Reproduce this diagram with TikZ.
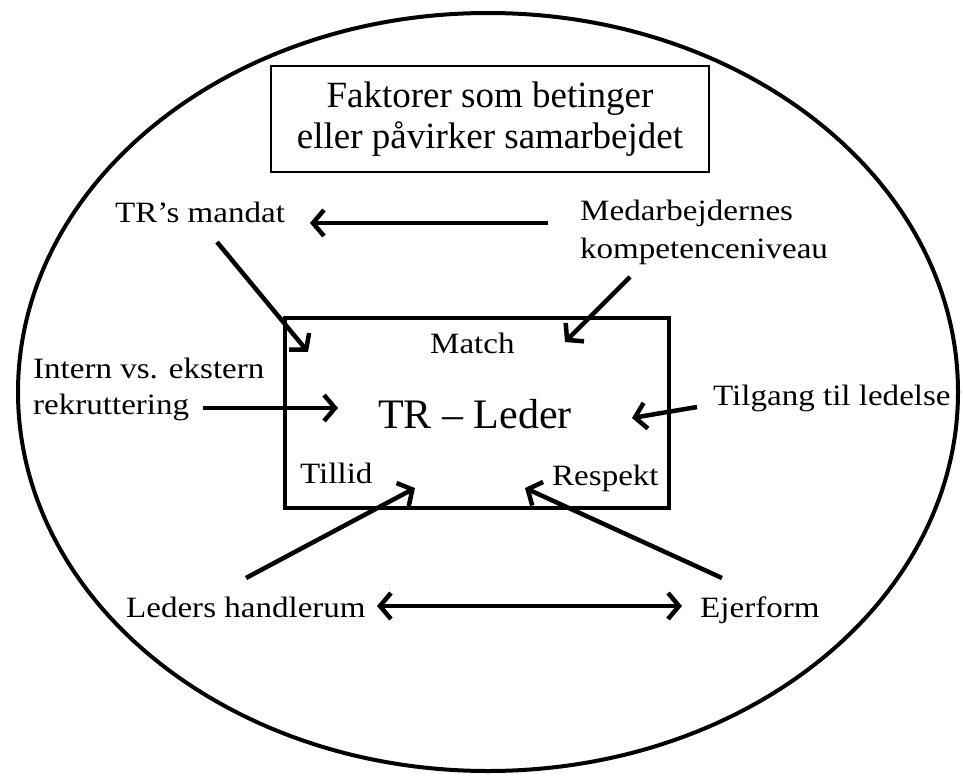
\documentclass[tikz,border=0pt]{standalone}
\usepackage{fontspec}
\setmainfont{Liberation Serif}
\newfontfamily\labfont{Liberation Serif}[FakeStretch=1.12]
\usetikzlibrary{arrows.meta}
\begin{document}
\begin{tikzpicture}[x=1pt,y=-1pt,
  lab/.style={inner sep=0pt, anchor=base west, font=\labfont\fontsize{29.5}{38}\selectfont, align=left},
  arr/.style={line width=4.5pt, -{Straight Barb[length=11pt,width=26pt]}},
  darr/.style={line width=4.5pt, {Straight Barb[length=11pt,width=26pt]}-{Straight Barb[length=11pt,width=26pt]}}]
\useasboundingbox (0,0) rectangle (963,776);
\fill[white] (0,0) rectangle (963,776);
% outer ellipse
\draw[line width=4pt] (488,392) ellipse [x radius=470pt, y radius=379pt];
% title box
\node[draw, line width=1.5pt, minimum width=438pt, minimum height=106pt, inner sep=0pt] (title) at (490,119) {};
\node[inner sep=0pt, anchor=base, align=center, font=\fontsize{37}{41}\selectfont] (titletext) at (490,148)
  {Faktorer som betinger\\eller påvirker samarbejdet};
% central box
\node[draw, line width=4pt, minimum width=384pt, minimum height=190pt, inner sep=0pt] (box) at (477,413) {};
\node[inner sep=0pt, anchor=base west, font=\fontsize{42}{46}\selectfont] (trleder) at (378,428) {TR – Leder};
\node[lab] (match) at (430,353) {Match};
\node[lab] (tillid) at (300,483) {Tillid};
\node[lab] (respekt) at (552,485) {Respekt};
% labels
\node[lab] (mandat) at (115,222) {TR’s mandat};
\node[lab] (medarb) at (580,258) {Medarbejdernes\\kompetenceniveau};
\node[lab, font=\labfont\fontsize{29.5}{36}\selectfont] (intern) at (33,414) {Intern vs. ekstern\\rekruttering};
\node[lab] (tilgang) at (713,405) {Tilgang til ledelse};
\node[lab] (leders) at (126,617) {Leders handlerum};
\node[lab] (ejer) at (700,617) {Ejerform};
% connector end points
\coordinate (medS) at (548,223);
\coordinate (mandE) at (310,223);
\coordinate (mandS) at (217,242);
\coordinate (boxTL) at (308,352);
\coordinate (kompS) at (630,277);
\coordinate (boxTR) at (565,342);
\coordinate (rekS) at (203,408);
\coordinate (boxL) at (338,408);
\coordinate (tilS) at (697,407);
\coordinate (boxR) at (632,418);
\coordinate (ledS) at (246,578);
\coordinate (tillidE) at (415,488);
\coordinate (ejerS) at (722,578);
\coordinate (respE) at (525,488);
\coordinate (dblL) at (377,606);
\coordinate (dblR) at (682,606);
% connectors
\draw[arr] (medS) -- (mandE);
\draw[arr] (mandS) -- (boxTL);
\draw[arr] (kompS) -- (boxTR);
\draw[arr] (rekS) -- (boxL);
\draw[arr] (tilS) -- (boxR);
\draw[arr] (ledS) -- (tillidE);
\draw[arr] (ejerS) -- (respE);
\draw[darr] (dblL) -- (dblR);
\end{tikzpicture}
\end{document}
